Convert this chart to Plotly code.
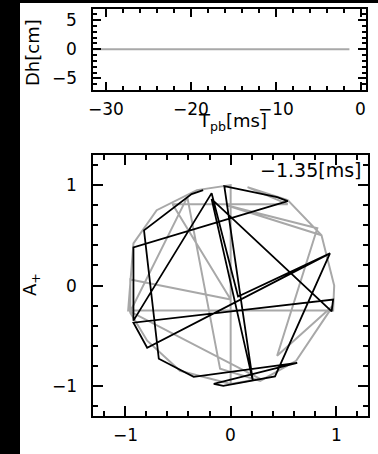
import plotly.graph_objects as go

# ---------------- data ----------------
# top panel: Dh vs T_pb
tpb = [-31.6, -1.35]
dh = [0.0, 0.0]

# bottom panel: trajectories (A_x, A_+)
gray_x = [0.00, 0.00, -0.32, -0.70, -0.92, -0.97, 0.97, 0.98, 0.86, 0.54, 0.16, 0.54, -0.55,
          0.00, -0.95, -0.95, -0.79, -0.48, 0.00, 0.28, -0.95, -0.41, -0.10, 0.28, 0.62, 0.97,
          0.44, 0.82, -0.04, 0.86]
gray_y = [-0.99, 1.00, 0.95, 0.75, 0.42, -0.25, -0.25, 0.00, 0.50, 0.85, 0.98, 0.81, 0.81,
          -0.14, 0.06, -0.27, -0.55, -0.85, -0.98, -0.93, -0.26, 0.88, -0.83, -0.95, -0.75, -0.20,
          -0.70, 0.57, 0.80, 0.50]

black_x = [-0.26, -0.37, -0.82, -0.68, -0.35, 0.63, -0.16, -0.07, 0.42, 0.94, -0.79, -0.92,
           0.97, 0.956, -0.18, 0.21, -0.06, 0.44, 0.54, -0.92, -0.92, -0.18, 0.07, 0.94]
black_y = [0.95, 0.91, 0.55, -0.73, -0.91, -0.77, -0.98, -1.00, -0.905, 0.32, -0.62, -0.37,
           -0.14, -0.257, 0.86, -0.95, 0.99, 0.88, 0.84, 0.38, -0.35, 0.92, -0.11, 0.32]

top_xticks = [-30, -20, -10, 0]
top_yticks = [-5, 0, 5]
bot_ticks = [-1, 0, 1]
time_label = "\u22121.35[ms]"

# ---------------- figure ----------------
W, H = 378, 454
FONT = "DejaVu Sans"


def fx(p):
    return p / W


def fy(p):
    return 1 - p / H


def lab(v):
    return str(v).replace("-", "\u2212")


fig = go.Figure()
fig.add_trace(go.Scatter(x=tpb, y=dh, mode="lines", line=dict(color="#a8a8a8", width=2),
                         xaxis="x", yaxis="y", showlegend=False, hoverinfo="skip"))
fig.add_trace(go.Scatter(x=gray_x, y=gray_y, mode="lines", line=dict(color="#a8a8a8", width=2),
                         xaxis="x2", yaxis="y2", showlegend=False, hoverinfo="skip"))
fig.add_trace(go.Scatter(x=black_x, y=black_y, mode="lines", line=dict(color="black", width=1.8),
                         xaxis="x2", yaxis="y2", showlegend=False, hoverinfo="skip"))

common = dict(showline=True, linecolor="black", linewidth=2, mirror="ticks", ticks="inside",
              tickcolor="black", tickwidth=1.5, showgrid=False, zeroline=False,
              showticklabels=False)

fig.update_layout(
    width=W, height=H, margin=dict(l=0, r=0, t=0, b=0),
    paper_bgcolor="white", plot_bgcolor="white", showlegend=False,
    xaxis=dict(domain=[fx(93), fx(366)], anchor="y", range=[-31.5, 0.6],
               tickmode="array", tickvals=top_xticks, ticklen=8,
               minor=dict(dtick=2, tick0=0, ticks="inside", ticklen=4, tickwidth=1.5, tickcolor="black"),
               **common),
    yaxis=dict(domain=[fy(90), fy(8.5)], anchor="x", range=[-7, 7],
               tickmode="array", tickvals=top_yticks, ticklen=8,
               minor=dict(dtick=1, tick0=0, ticks="inside", ticklen=4, tickwidth=1.5, tickcolor="black"),
               **common),
    xaxis2=dict(domain=[fx(93.3), fx(368)], anchor="y2", range=[-1.3, 1.3],
                tickmode="array", tickvals=bot_ticks, ticklen=10,
                minor=dict(dtick=0.2, tick0=0, ticks="inside", ticklen=5, tickwidth=1.5, tickcolor="black"),
                **common),
    yaxis2=dict(domain=[fy(416), fy(155)], anchor="x2", range=[-1.3, 1.3],
                tickmode="array", tickvals=bot_ticks, ticklen=10,
                minor=dict(dtick=0.2, tick0=0, ticks="inside", ticklen=5, tickwidth=1.5, tickcolor="black"),
                **common),
)

# black border bands of the original image
fig.add_shape(type="rect", xref="paper", yref="paper", x0=0, x1=fx(20), y0=0, y1=1,
              fillcolor="black", line_width=0, layer="below")
fig.add_shape(type="rect", xref="paper", yref="paper", x0=0, x1=1, y0=fy(3), y1=1,
              fillcolor="black", line_width=0, layer="below")

tf = dict(family=FONT, size=17, color="black")
# tick labels, placed on the axes' own scales
for v in top_xticks:
    fig.add_annotation(text=lab(v), xref="x", yref="paper", x=v, y=fy(97), showarrow=False,
                       font=tf, xanchor="center", yanchor="top")
for v in top_yticks:
    fig.add_annotation(text=lab(v), xref="paper", yref="y", x=fx(79), y=v, showarrow=False,
                       font=tf, xanchor="right", yanchor="middle")
for v in bot_ticks:
    fig.add_annotation(text=lab(v), xref="x2", yref="paper", x=v, y=fy(423), showarrow=False,
                       font=tf, xanchor="center", yanchor="top")
    fig.add_annotation(text=lab(v), xref="paper", yref="y2", x=fx(79), y=v, showarrow=False,
                       font=tf, xanchor="right", yanchor="middle")

af = dict(family=FONT, size=18, color="black")
fig.add_annotation(text="Dh[cm]", xref="paper", yref="paper", x=fx(32), y=fy(53),
                   textangle=-90, showarrow=False, font=af, xanchor="center", yanchor="middle")
fig.add_annotation(text="T<sub>pb</sub>[ms]", xref="paper", yref="paper", x=fx(232), y=fy(122),
                   showarrow=False, font=af, xanchor="center", yanchor="middle")
fig.add_annotation(text="A<sub>+</sub>", xref="paper", yref="paper", x=fx(31), y=fy(285),
                   textangle=-90, showarrow=False, font=af, xanchor="center", yanchor="middle")
fig.add_annotation(text=time_label, xref="paper", yref="paper", x=fx(363), y=fy(170),
                   showarrow=False, font=dict(family=FONT, size=19, color="black"),
                   xanchor="right", yanchor="middle")
fig.add_annotation(text="A<sub>\u00d7</sub>", xref="paper", yref="paper", x=fx(232), y=fy(449),
                   showarrow=False, font=af, xanchor="center", yanchor="top")

fig.write_html("out.html")
